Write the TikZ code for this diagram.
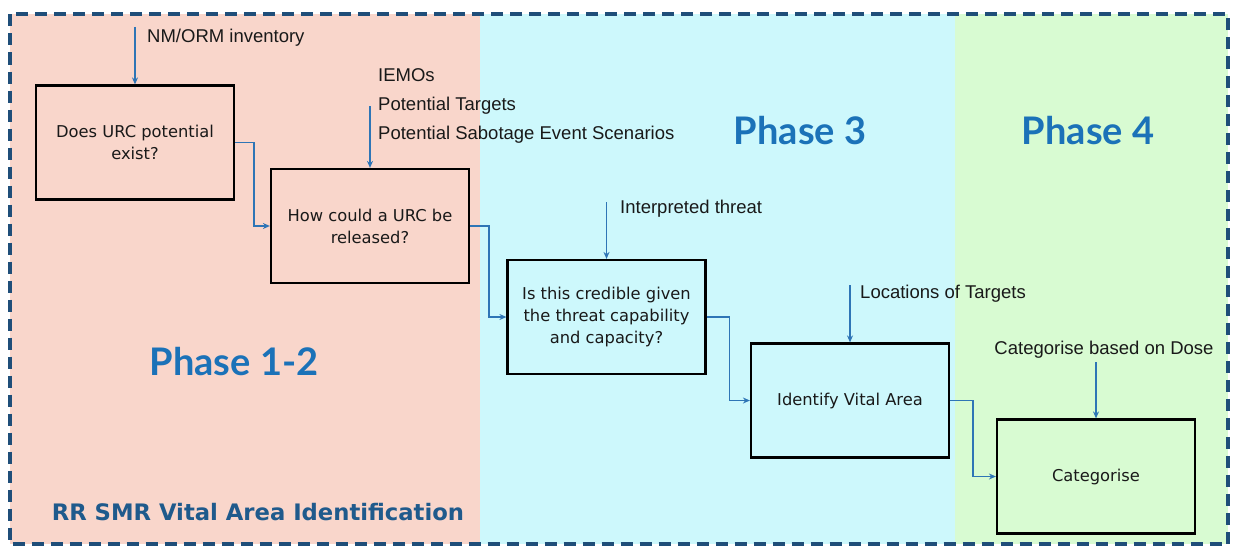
\documentclass[tikz,border=0pt]{standalone}
\usepackage{fontspec}
\setmainfont{Liberation Sans}
\newfontfamily\boxfont{DejaVu Sans}
\newfontfamily\phasefont{Lato}
\usetikzlibrary{arrows.meta}

\definecolor{zonepink}{HTML}{F9D6CB}
\definecolor{zonecyan}{HTML}{CDF8FC}
\definecolor{zonegreen}{HTML}{D8FBD2}
\definecolor{borderblue}{HTML}{1F4E79}
\definecolor{flowblue}{HTML}{2E75B6}
\definecolor{phaseblue}{HTML}{1B72B8}
\definecolor{titleblue}{HTML}{1F5A8C}

\begin{document}
\begin{tikzpicture}[x=1pt,y=-1pt,
  >={Stealth[length=7pt,width=6pt]},
  stepbox/.style={draw=black,line width=2.2pt,minimum width=198pt,minimum height=114pt,
    align=center,text=black!90,font=\boxfont\fontsize{16.3}{22}\selectfont},
  flow/.style={->,draw=flowblue,line width=1.4pt},
  inlabel/.style={text=black!90,font=\fontsize{18.5}{29}\selectfont,inner sep=0pt},
  phase/.style={text=phaseblue,font=\phasefont\bfseries\fontsize{38}{40}\selectfont}]
\useasboundingbox (0,0) rectangle (1246,551);
% phase zones
\fill[zonepink] (10,14.5) rectangle (480,544);
\fill[zonecyan] (480,14.5) rectangle (955,544);
\fill[zonegreen] (955,14.5) rectangle (1228,544);
\draw[line width=4pt,draw=borderblue,dash pattern=on 12pt off 7pt] (10,14.5) rectangle (1228,544);

\node[phase] (ph12) at (234,362) {Phase 1-2};
\node[phase] (ph3) at (800,131) {Phase 3};
\node[phase] (ph4) at (1088,131) {Phase 4};
\node[text=titleblue,font=\boxfont\bfseries\fontsize{22.7}{26}\selectfont] (title) at (258,512)
  {RR SMR Vital Area Identification};

% steps
\node[stepbox] (exist) at (135,142.5) {Does URC potential\\exist?};
\node[stepbox] (release) at (370,226) {How could a URC be\\released?};
\node[stepbox] (credible) at (606.5,317) {Is this credible given\\the threat capability\\and capacity?};
\node[stepbox] (vital) at (850,400.5) {Identify Vital Area};
\node[stepbox] (categ) at (1096,476.5) {Categorise};

\draw[flow] (exist.east) -- ++(19,0) |- (release.west);
\draw[flow] (release.east) -- ++(19,0) |- (credible.west);
\draw[flow] (credible.east) -- ++(23,0) |- (vital.west);
\draw[flow] (vital.east) -- ++(23,0) |- (categ.west);

% inputs
\coordinate (in1) at (135,27);
\coordinate (in2) at (370,106);
\coordinate (in3) at (606.5,202);
\coordinate (in4) at (850,285);
\coordinate (in5) at (1096,362);
\draw[flow] (in1) -- (exist.north);
\draw[flow] (in2) -- (release.north);
\draw[flow] (in3) -- (credible.north);
\draw[flow] (in4) -- (vital.north);
\draw[flow] (in5) -- (categ.north);
\node[inlabel,anchor=west] (inv) at (147,38) {NM/ORM inventory};
\node[inlabel,anchor=west,align=left] (iemo) at (378,106)
  {IEMOs\\Potential Targets\\Potential Sabotage Event Scenarios};
\node[inlabel,anchor=west] (threat) at (620,209) {Interpreted threat};
\node[inlabel,anchor=west] (locs) at (860,294) {Locations of Targets};
\node[inlabel] (dose) at (1104,350) {Categorise based on Dose};
\end{tikzpicture}
\end{document}
